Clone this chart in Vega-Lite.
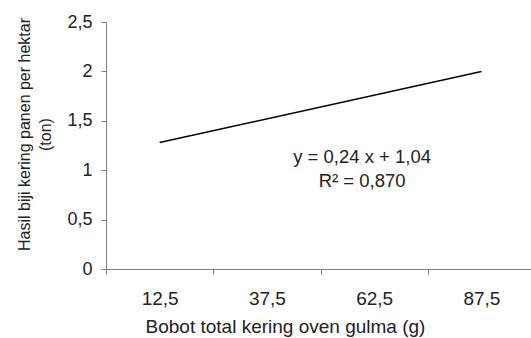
{
  "$schema": "https://vega.github.io/schema/vega-lite/v6.json",
  "autosize": "none",
  "width": 429,
  "height": 247,
  "padding": {"left": 106, "top": 22, "right": 0, "bottom": 69},
  "background": "white",
  "config": {
    "view": {"stroke": null},
    "font": "Liberation Sans",
    "axis": {"grid": false, "domainColor": "#808080", "tickColor": "#808080", "labelColor": "#222", "titleColor": "#222", "labelFont": "Liberation Sans", "titleFont": "Liberation Sans", "labelFontSize": 18, "titleFontSize": 18, "titleFontWeight": "normal", "tickSize": 5}
  },
  "datasets": {
    "line": [
      {"x": "12,5", "y": 1.28},
      {"x": "87,5", "y": 2.0}
    ],
    "eq": [
      {"x": "62,5", "y": 1.13, "t": "y = 0,24 x + 1,04"},
      {"x": "62,5", "y": 0.89, "t": "R² = 0,870"}
    ]
  },
  "layer": [
    {
      "data": {"name": "line"},
      "mark": {"type": "line", "color": "black", "strokeWidth": 1.5},
      "encoding": {
        "x": {"field": "x", "type": "nominal", "sort": null,
          "scale": {"type": "band", "domain": ["12,5", "37,5", "62,5", "87,5"], "paddingInner": 0, "paddingOuter": 0},
          "axis": {"title": "Bobot total kering oven gulma (g)", "labelAngle": 0, "tickBand": "extent", "labelFontSize": 19, "labelPadding": 15, "titleFontSize": 19, "titlePadding": 9, "titleX": 179}},
        "y": {"field": "y", "type": "quantitative",
          "scale": {"domain": [0, 2.5], "nice": false},
          "axis": {"title": ["Hasil biji kering panen per hektar", "(ton)"], "values": [0, 0.5, 1, 1.5, 2, 2.5], "labelExpr": "replace(toString(datum.value), '.', ',')", "labelPadding": 9, "titleFontSize": 16, "titleLineHeight": 21, "titleY": 112, "titlePadding": 13}}
      }
    },
    {
      "data": {"name": "eq"},
      "mark": {"type": "text", "fontSize": 18.5, "color": "#222", "dx": -12, "baseline": "middle", "font": "Liberation Sans"},
      "encoding": {
        "x": {"field": "x", "type": "nominal"},
        "y": {"field": "y", "type": "quantitative"},
        "text": {"field": "t"}
      }
    }
  ]
}
